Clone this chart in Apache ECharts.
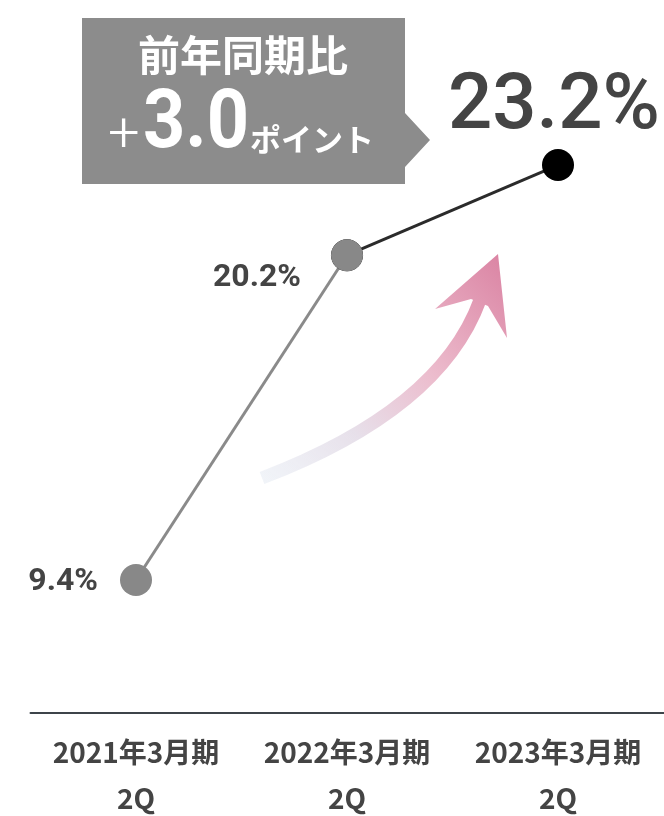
<!DOCTYPE html>
<html><head><meta charset="utf-8">
<script src="https://cdn.jsdelivr.net/npm/echarts@6/dist/echarts.min.js"></script>
<style>html,body{margin:0;padding:0;background:#fff}#c{width:664px;height:816px}</style>
</head><body><div id="c"></div>
<script>
const periods = ['2021年3月期', '2022年3月期', '2023年3月期'];
const quarter = '2Q';
const values = [9.4, 20.2, 23.2];
const changeText = '前年同期比';
const changeValue = '3.0';
const changeUnit = 'ポイント';

const chart = echarts.init(document.getElementById('c'));
const numFont = 'Roboto, "Liberation Sans", sans-serif';
const jpFont = '"Noto Sans CJK JP", sans-serif';

const grayData = values.map((v, i) => i < 2 ? v : null);
const darkData = values.map((v, i) => i >= 1 ? v : null);

const labelCfg = [
  {show: true, position: 'left', distance: 22, offset: [0, 2], fontSize: 32, fontWeight: 'bold', fontFamily: numFont, color: '#444'},
  {show: true, position: 'left', distance: 30, offset: [0, 23], fontSize: 32, fontWeight: 'bold', fontFamily: numFont, color: '#444'},
  {show: true, position: 'top', distance: 2, offset: [-4, 0], fontSize: 78, fontWeight: 500, fontFamily: numFont, color: '#444'}
];

const arrowGrad = () => new echarts.graphic.LinearGradient(262, 478, 498, 254, [
  {offset: 0, color: 'rgba(236,240,246,0.75)'},
  {offset: 0.3, color: '#e7e0ea'},
  {offset: 0.6, color: '#ecbccd'},
  {offset: 1, color: '#db85a4'}
], true);

chart.setOption({
  animation: false,
  grid: {left: 30.5, right: 0.5, top: 20.7, bottom: 103.7, containLabel: false, outerBoundsMode: 'none'},
  xAxis: {
    type: 'category',
    data: periods,
    axisLine: {lineStyle: {color: '#3d444a', width: 2}},
    axisTick: {show: false},
    axisLabel: {
      interval: 0,
      hideOverlap: false,
      formatter: p => p + '\n' + quarter,
      margin: 17,
      lineHeight: 46,
      fontSize: 28,
      fontWeight: 'bold',
      fontFamily: jpFont,
      color: '#444'
    }
  },
  yAxis: {type: 'value', min: 5, max: 28, show: false, splitLine: {show: false}},
  series: [
    {
      type: 'line',
      data: darkData.map((v, i) => ({value: v, label: i === 2 ? labelCfg[2] : {show: false}})),
      symbol: 'circle', symbolSize: 32,
      itemStyle: {color: '#000'},
      lineStyle: {color: '#2b2b2b', width: 3},
      label: {formatter: p => p.value + '%'}
    },
    {
      type: 'line',
      data: grayData.map((v, i) => ({value: v, label: labelCfg[i]})),
      symbol: 'circle', symbolSize: 32,
      itemStyle: {color: '#888'},
      lineStyle: {color: '#8a8a8a', width: 3},
      label: {formatter: p => p.value + '%'}
    }
  ],
  graphic: [
    {
      type: 'polygon',
      shape: {points: [[82, 18], [405, 18], [405, 113], [430, 140], [405, 167], [405, 184], [82, 184]]},
      style: {fill: '#8c8c8c'}
    },
    {
      type: 'text', x: 243, y: 55,
      style: {text: changeText, fill: '#fff', font: 'bold 42px ' + jpFont, align: 'center', verticalAlign: 'middle'}
    },
    {
      type: 'text', x: 108, y: 137,
      style: {text: '+', fill: '#fff', font: '300 56px ' + numFont, align: 'left', verticalAlign: 'middle'}
    },
    {
      type: 'text', x: 143, y: 126, scaleX: 0.9, originX: 0, originY: 0,
      style: {text: changeValue, fill: '#fff', font: 'bold 82px ' + numFont, align: 'left', verticalAlign: 'middle'}
    },
    {
      type: 'text', x: 250, y: 139,
      style: {text: changeUnit, fill: '#fff', font: 'bold 31px ' + jpFont, align: 'left', verticalAlign: 'middle'}
    },
    {
      type: 'bezierCurve', z: -1,
      shape: {x1: 262, y1: 478, x2: 480, y2: 300, cpx1: 440, cpy1: 410},
      style: {fill: null, lineWidth: 13, lineCap: 'butt', stroke: arrowGrad()}
    },
    {
      type: 'polygon', z: -1,
      shape: {points: [[498, 254], [435, 309], [471, 299], [488, 306], [507, 338]]},
      style: {fill: arrowGrad()}
    }
  ]
});
</script></body></html>
